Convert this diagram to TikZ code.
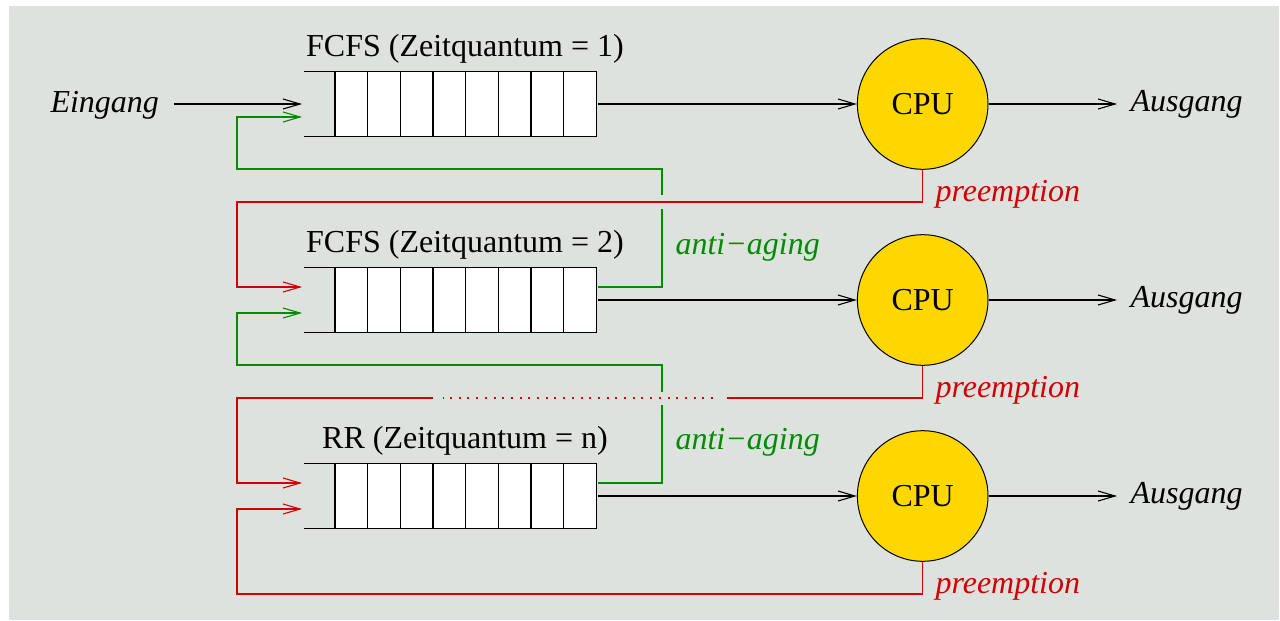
\documentclass[tikz,border=0pt]{standalone}
\usepackage{fontspec}
\setmainfont{Liberation Serif}
\usetikzlibrary{arrows.meta}
\definecolor{bg}{RGB}{222,226,222}
\definecolor{cpuyellow}{RGB}{255,215,0}
\definecolor{pred}{RGB}{210,0,0}
\definecolor{pgreen}{RGB}{0,140,0}
\begin{document}
\begin{tikzpicture}[x=1pt,y=-1pt, font=\fontsize{32}{38}\selectfont, line width=1.1pt,
  arr/.style={-{Straight Barb[length=17pt,width=10pt,line width=1.1pt]}},
  cell/.style={draw, minimum width=32.67pt, minimum height=65pt, fill=white, inner sep=0pt, line width=1.3pt},
  qbox/.style={inner sep=0pt, minimum width=262pt, minimum height=65pt},
  cpu/.style={circle, draw, fill=cpuyellow, minimum size=130.6pt, inner sep=0pt, line width=1pt},
  lbl/.style={inner sep=0pt, anchor=base west},
  qlbl/.style={inner sep=0pt, anchor=base},
  redline/.style={draw=pred, line width=1.2pt},
  greenline/.style={draw=pgreen, line width=1.2pt},
  dotline/.style={draw=pred, line width=1.3pt, dash pattern=on 2pt off 6.7pt}]
\useasboundingbox (0,0) rectangle (1280,621);
\fill[bg] (9,6) rectangle (1279,620);

% queues
\foreach \n/\cy in {1/104,2/300,3/496}{
  \draw[line width=1.3pt] (304,\cy-32.5) -- (597,\cy-32.5);
  \draw[line width=1.3pt] (304,\cy+32.5) -- (597,\cy+32.5);
  \foreach \k in {0,...,7}{
    \node[cell] at (351.33+32.67*\k,\cy) {};
  }
  \node[qbox] (q\n) at (466,\cy) {};
  \node[cpu] (c\n) at (922.7,\cy) {CPU};
  \node[inner xsep=13pt, inner ysep=0pt, anchor=base west] (a\n) at (1117,\cy+7) {\itshape Ausgang};
  \draw[arr] (q\n.east) -- (c\n.west);
  \draw[arr] (c\n.east) -- (c\n.east -| a\n.west);
  \node[lbl, text=pred] (p\n) at (935,\cy+97) {\itshape preemption};
}

% queue labels
\node[qlbl] (l1) at (465,56) {FCFS (Zeitquantum = 1)};
\node[qlbl] (l2) at (465,252) {FCFS (Zeitquantum = 2)};
\node[qlbl] (l3) at (465,448) {RR (Zeitquantum = n)};

% entry points
\coordinate (q1in) at (302,104);
\coordinate (q1g) at (302,117);
\coordinate (q2r) at (302,287);
\coordinate (q2g) at (302,313);
\coordinate (q3r) at (302,483);
\coordinate (q3b) at (302,509);

% input
\node[inner xsep=14pt, inner ysep=0pt, anchor=base west] (ein) at (36,112) {\itshape Eingang};
\draw[arr] (ein.east |- q1in) -- (q1in);

% anti-aging 2 -> 1
\draw[greenline] (q2.east |- q2r) -- (662,287) -- (662,209);
\draw[greenline, arr] (662,195) |- (237,169) |- (q1g);
\node[lbl, text=pgreen] (g1) at (675,254) {\itshape anti−aging};

% anti-aging 3 -> 2
\draw[greenline] (q3.east |- q3r) -- (662,483) -- (662,404.5);
\draw[greenline, arr] (662,391.5) |- (237,365) |- (q2g);
\node[lbl, text=pgreen] (g2) at (675,449.5) {\itshape anti−aging};

% preemption 1
\draw[redline, arr] (c1.south) |- (237,202) |- (q2r);
% preemption 2
\draw[redline] (c2.south) |- (727,398);
\draw[dotline] (713,398) -- (443,398);
\draw[redline, arr] (433,398) -- (237,398) |- (q3r);
% preemption 3
\draw[redline, arr] (c3.south) |- (237,594) |- (q3b);
\end{tikzpicture}
\end{document}
